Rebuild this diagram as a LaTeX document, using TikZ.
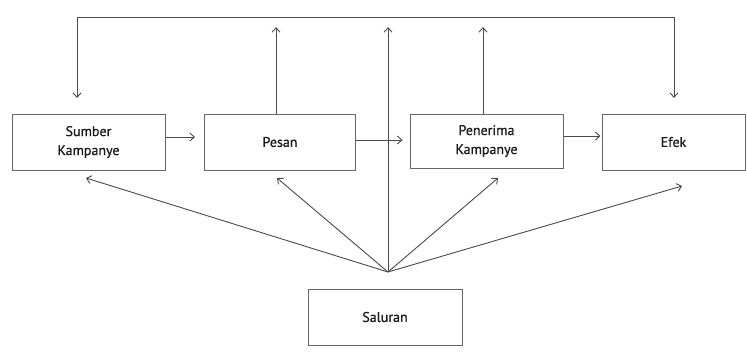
\documentclass[tikz,border=0pt]{standalone}
\usepackage{fontspec}
\setmainfont[FakeBold=0.7,AutoFakeBold=0.7]{PT Sans}
\usetikzlibrary{arrows.meta}
\definecolor{ln}{HTML}{4A4A4A}
\definecolor{bx}{HTML}{666666}
\definecolor{tx}{HTML}{1A1A1A}
\begin{document}
\begin{tikzpicture}[x=1pt,y=-1pt,
  box/.style={draw=bx,line width=1pt,minimum height=56pt,align=center,text=tx,
    font=\fontsize{14}{19}\selectfont\bfseries,inner sep=0pt},
  arr/.style={draw=ln,line width=0.9pt,-{Straight Barb[length=4.5pt,width=8pt]}},
  lin/.style={draw=ln,line width=0.9pt}]
\useasboundingbox[fill=white] (0,0) rectangle (747,351);
\node[box,minimum width=153pt] (sumber) at (88.5,142) {Sumber\\Kampanye};
\node[box,minimum width=151pt] (pesan) at (280,142) {Pesan};
\node[box,minimum width=153pt,minimum height=54pt] (penerima) at (486.5,141) {Penerima\\Kampanye};
\node[box,minimum width=143pt] (efek) at (673.5,142) {Efek};
\node[box,minimum width=154pt] (saluran) at (385,317) {Saluran};
% coordinates
\coordinate (c) at (388,272);
\coordinate (tl) at (77,17);
\coordinate (tr) at (674,17);
\coordinate (fbL) at (77,98);
\coordinate (fbR) at (674,98);
\coordinate (upP) at (276,27);
\coordinate (upR) at (483,27);
\coordinate (upC) at (388,27);
\coordinate (tS) at (86,178);
\coordinate (tP) at (277,178);
\coordinate (tR) at (498,178);
\coordinate (tE) at (682,186);
% feedback loop
\draw[arr,{Straight Barb[length=4.5pt,width=8pt]}-{Straight Barb[length=4.5pt,width=8pt]}] (fbL) -- (tl) -- (tr) -- (fbR);
% chain
\draw[arr,shorten >=9pt] ([yshift=5pt]sumber.east) -- ([yshift=5pt]pesan.west);
\draw[arr,shorten >=7pt] ([yshift=2pt]pesan.east) -- ([yshift=2pt]penerima.west |- pesan.east);
\draw[arr,shorten >=1pt] ([yshift=5pt]penerima.east) -- ([yshift=5pt]efek.west |- penerima.east);
% up arrows
\draw[arr] (pesan.north -| upP) -- (upP);
\draw[arr] (penerima.north -| upR) -- (upR);
\draw[arr] (c) -- (upC);
% fan
\draw[arr] (c) -- (tS);
\draw[arr] (c) -- (tP);
\draw[arr] (c) -- (tR);
\draw[arr] (c) -- (tE);
\end{tikzpicture}
\end{document}
